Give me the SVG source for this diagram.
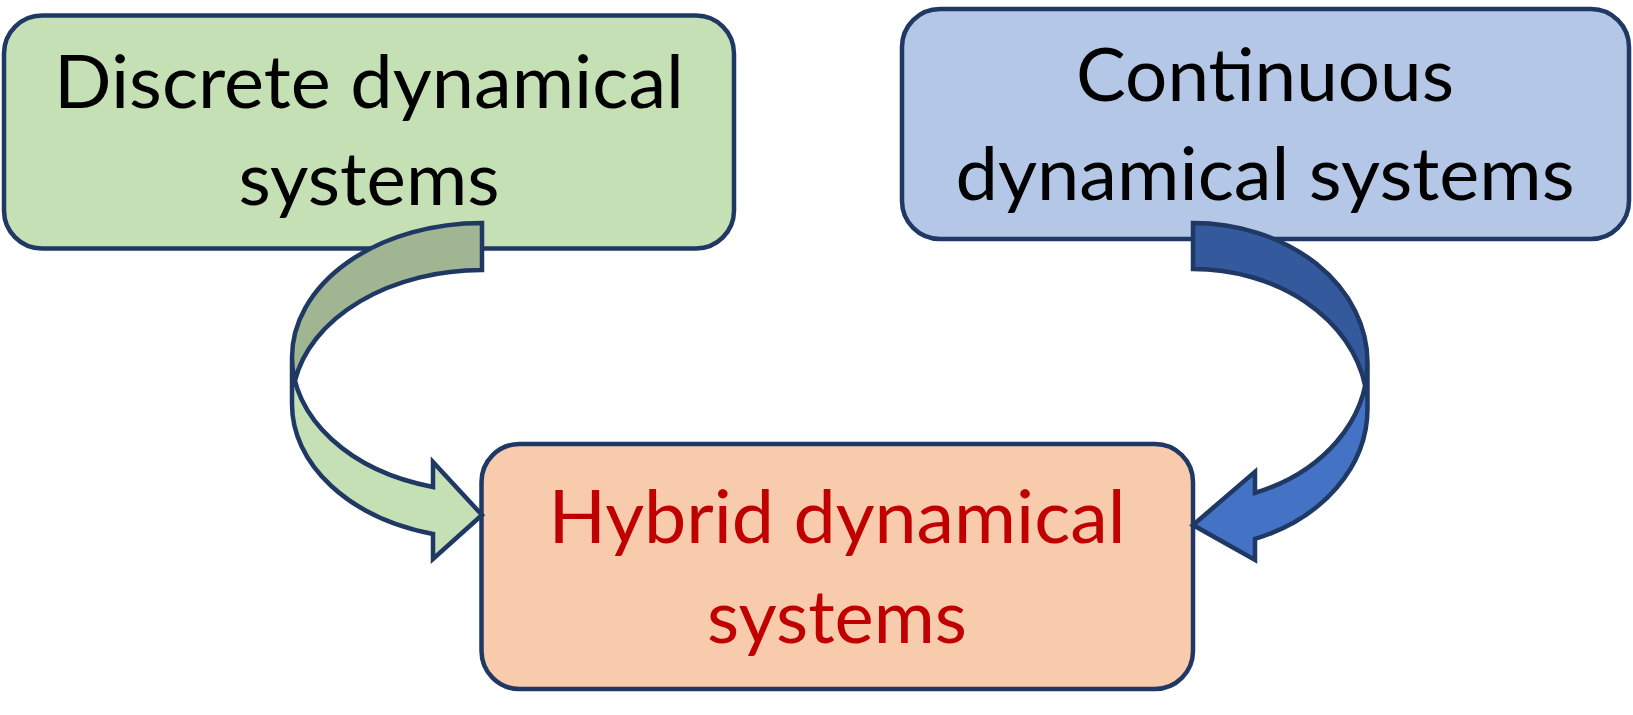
<svg xmlns="http://www.w3.org/2000/svg" width="1633" height="715" viewBox="0 0 1633 715">
<style>
.box{stroke:#1F3864;stroke-width:4.5}
.lbl{font-family:Lato,"Open Sans","Liberation Sans",sans-serif;font-size:73px;text-anchor:middle}
.blk{fill:#000}
.red{fill:#C00000}
.edge{fill:none;stroke:#1F3864;stroke-width:4.5;stroke-linejoin:miter}
</style>
<rect width="1633" height="715" fill="#FFFFFF"/>
<g id="discrete">
<rect class="box" x="4" y="15.5" width="730" height="233" rx="38" fill="#C5E0B4"/>
<text class="lbl blk" x="369" y="108" textLength="630" lengthAdjust="spacingAndGlyphs">Discrete dynamical</text>
<text class="lbl blk" x="369" y="205" textLength="261" lengthAdjust="spacingAndGlyphs">systems</text>
</g>
<g id="continuous">
<rect class="box" x="902" y="9" width="727" height="230" rx="38" fill="#B4C7E7"/>
<text class="lbl blk" x="1265" y="100.5" textLength="378" lengthAdjust="spacingAndGlyphs">Continuous</text>
<text class="lbl blk" x="1265" y="200" textLength="619" lengthAdjust="spacingAndGlyphs">dynamical systems</text>
</g>
<g id="hybrid">
<rect class="box" x="481.5" y="444" width="711.5" height="245" rx="38" fill="#F8CBAD"/>
<text class="lbl red" x="837" y="543" textLength="577" lengthAdjust="spacingAndGlyphs">Hybrid dynamical</text>
<text class="lbl red" x="837" y="642.5" textLength="260" lengthAdjust="spacingAndGlyphs">systems</text>
</g>
<g id="connectors">
<g id="arrow-discrete-hybrid">
<path fill="#A0B592" d="M482,223 A190,134.25 0 0 0 294.93,380.75 A190,134.25 0 0 1 482,270 Z"/>
<path fill="#C5E0B4" d="M292,357.25 A190,134.25 0 0 0 433,486.96 L433,461.96 L482,515 L433,558.96 L433,533.96 A190,134.25 0 0 1 292,404.25 Z"/>
<path class="edge" d="M292,357.25 A190,134.25 0 0 0 433,486.96 L433,461.96 L482,515 L433,558.96 L433,533.96 A190,134.25 0 0 1 292,404.25 L292,357.25 A190,134.25 0 0 1 482,223 L482,270 A190,134.25 0 0 0 294.93,380.75"/>
</g>
<g id="arrow-continuous-hybrid">
<path fill="#34599C" d="M1193,223 A174.5,139.5 0 0 1 1365.11,385.5 A174.5,139.5 0 0 0 1193,269 Z"/>
<path fill="#4472C4" d="M1367.5,362.5 A174.5,139.5 0 0 1 1255,492.9 L1255,471.9 L1193,525 L1255,559.9 L1255,538.9 A174.5,139.5 0 0 0 1367.5,408.5 Z"/>
<path class="edge" d="M1367.5,362.5 A174.5,139.5 0 0 1 1255,492.9 L1255,471.9 L1193,525 L1255,559.9 L1255,538.9 A174.5,139.5 0 0 0 1367.5,408.5 L1367.5,362.5 A174.5,139.5 0 0 0 1193,223 L1193,269 A174.5,139.5 0 0 1 1365.11,385.5"/>
</g>
</g>
</svg>
